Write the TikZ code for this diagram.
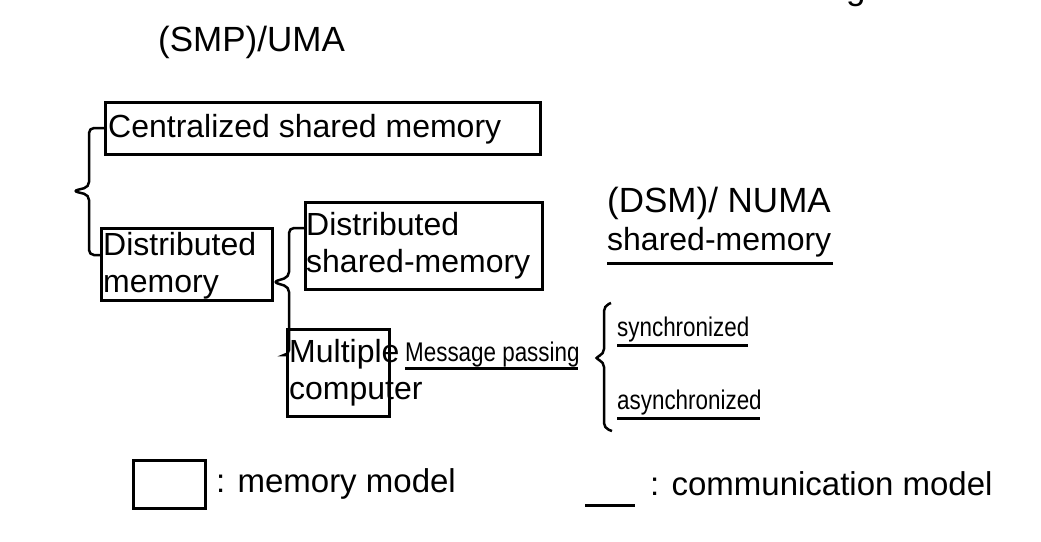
\documentclass[tikz,border=0pt]{standalone}
\usepackage{fontspec}
\usepackage{graphicx}
\setmainfont{Liberation Sans}
\newcommand{\narrowtxt}[1]{\scalebox{0.83}[1]{#1}}
\begin{document}
\begin{tikzpicture}[x=1pt,y=-1pt,
  box/.style={draw,line width=3pt,inner sep=0pt},
  lbl/.style={inner sep=0pt,anchor=west},
  big/.style={font=\fontsize{32}{37}\selectfont},
  leg/.style={font=\fontsize{33}{38}\selectfont},
  mid/.style={font=\fontsize{27}{32}\selectfont},
  ttl/.style={font=\fontsize{35}{40}\selectfont},
  br/.style={line width=2.5pt,rounded corners=5pt},
  ul/.style={line width=3pt}]
\useasboundingbox (0,0) rectangle (1041,541);
\node[lbl,ttl] (g) at (846,-6) {g};
\node[lbl,ttl] (smp) at (158,42) {(SMP)/UMA};
\node[box,minimum width=435pt,minimum height=52pt] (cen) at (322.5,128) {};
\node[lbl,big] (cent) at (108,129) {Centralized shared memory};
\node[box,minimum width=171pt,minimum height=72pt] (dm) at (186.5,264) {};
\node[lbl,big,align=left] (dmt) at (103,266) {Distributed\\memory};
\node[box,minimum width=237pt,minimum height=87pt] (dsm) at (423.5,245.5) {};
\node[lbl,big,align=left] (dsmt) at (306,246) {Distributed\\shared-memory};
\node[box,minimum width=102pt,minimum height=87pt] (mc) at (338,372.5) {};
\node[lbl,big,align=left] (mct) at (289,373) {Multiple\\computer};
\node[lbl,ttl] (numa) at (607,203) {(DSM)/ NUMA};
\node[lbl,big] (shm) at (607,242) {shared-memory};
\draw[ul] (607,263) -- (833,263);
\node[lbl,mid] (mp) at (405,355) {\narrowtxt{Message passing}};
\draw[ul] (405,368) -- (578,368);
\node[lbl,mid] (syn) at (617,330) {\narrowtxt{synchronized}};
\draw[ul] (617,345) -- (748,345);
\node[lbl,mid] (asy) at (617,403) {\narrowtxt{asynchronized}};
\draw[ul] (617,418) -- (760,418);
% braces
\draw[br] (105,128) -- (89,128) -- (89,187) -- (73,191) -- (89,195) -- (89,255) -- (101,255);
\draw[br] (305,228) -- (289,228) -- (289,277) -- (273,282) -- (289,287) -- (289,355) -- (287,355);
\draw[br] (611,303) -- (604,306) -- (604,354) -- (594,358) -- (604,362) -- (604,428) -- (612,431);
% legend
\node[box,minimum width=72pt,minimum height=48pt] (lg) at (169,484) {};
\node[lbl,leg] (mm) at (216,484) {: memory model};
\coordinate (la) at (585,505);
\coordinate (lb) at (635,505);
\draw[ul] (la) -- (lb);
\node[lbl,leg] (cm) at (650,484) {: communication model};
\end{tikzpicture}
\end{document}
